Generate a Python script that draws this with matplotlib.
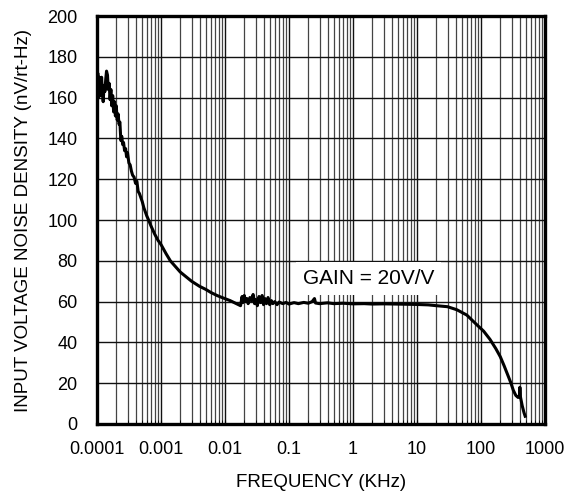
import matplotlib
matplotlib.use("Agg")
import matplotlib.pyplot as plt
from matplotlib.ticker import LogLocator, FixedLocator, NullFormatter

plt.rcParams['font.family'] = ['Liberation Sans', 'DejaVu Sans']

# frequency in kHz, noise density in nV/rt-Hz
freq = [
    1.00e-4, 1.03e-4, 1.06e-4, 1.09e-4, 1.12e-4, 1.15e-4, 1.18e-4, 1.21e-4,
    1.25e-4, 1.29e-4, 1.33e-4, 1.37e-4, 1.41e-4, 1.46e-4, 1.50e-4, 1.55e-4,
    1.60e-4, 1.65e-4, 1.70e-4, 1.76e-4, 1.82e-4, 1.88e-4, 1.94e-4, 2.00e-4,
    2.07e-4, 2.14e-4, 2.21e-4, 2.28e-4, 2.36e-4, 2.44e-4, 2.52e-4, 2.60e-4,
    2.70e-4, 2.80e-4, 2.90e-4, 3.00e-4, 3.15e-4, 3.30e-4, 3.45e-4, 3.60e-4,
    3.80e-4, 4.00e-4, 4.20e-4, 4.40e-4, 4.60e-4, 4.85e-4, 5.10e-4, 5.40e-4,
    5.70e-4, 6.00e-4, 6.40e-4,
    7.0e-4, 8.0e-4, 9.0e-4, 1.0e-3, 1.2e-3, 1.4e-3, 1.7e-3, 2.0e-3, 2.5e-3,
    3.0e-3, 4.0e-3, 5.0e-3, 6.0e-3, 7.5e-3, 9.0e-3, 1.2e-2, 1.5e-2,
    0.0175, 0.0185, 0.0190, 0.0200, 0.0210, 0.0220, 0.0230, 0.0245, 0.0260,
    0.0275, 0.0290, 0.0305, 0.0320, 0.0340, 0.0360, 0.0380, 0.0400, 0.0420,
    0.0445, 0.0470, 0.0500, 0.0530, 0.0560, 0.0600, 0.065, 0.070, 0.080,
    0.090, 0.10, 0.12, 0.14, 0.17, 0.20, 0.23, 0.25, 0.26, 0.30, 0.40, 0.5,
    0.7, 1.0, 1.5, 2.0, 3.0, 5.0, 7.0, 10, 15, 20, 30, 42, 60, 87, 110, 138,
    170, 200, 230, 262, 290, 320, 350, 380, 400, 405, 412, 440, 470, 490,
]
noise = [
    162, 172, 160, 170, 167, 161, 170, 164,
    158, 166, 163, 169, 173, 171, 164, 167,
    159, 164, 156, 161, 153, 158, 151, 156,
    149, 152, 147, 148, 139, 141, 137, 138,
    134, 135, 131, 133, 128, 127, 124, 122,
    121, 118, 119, 114, 113, 111, 109, 106,
    104, 102, 100,
    97, 93, 90, 88, 83.5, 80, 77, 74.5, 72,
    70, 67.5, 66, 64.5, 63, 62, 60.5, 59,
    58.0, 62.5, 59.5, 63.0, 60.0, 61.5, 59.0, 62.0, 60.5,
    63.5, 59.0, 61.0, 58.0, 62.5, 59.5, 63.0, 58.5, 61.5,
    59.0, 62.0, 58.5, 60.5, 59.0, 60.0, 58.5, 59.8, 59.0,
    59.6, 58.8, 59.5, 59.0, 59.6, 59.2, 60.0, 61.5, 59.3, 59.0, 59.4, 59.0,
    59.2, 58.9, 59.0, 58.8, 58.9, 58.8, 58.7, 58.6, 58.4, 58.0, 57.5, 56.0, 53.4, 48.5, 45.5, 41.5,
    37, 33, 28.5, 24, 20.5, 16.5, 14, 13, 13.5, 18, 13.5, 9, 5.5, 3.8,
]

xticks = [1e-4, 1e-3, 1e-2, 1e-1, 1, 10, 100, 1000]
xtick_labels = ["0.0001", "0.001", "0.01", "0.1", "1", "10", "100", "1000"]
yticks = [0, 20, 40, 60, 80, 100, 120, 140, 160, 180, 200]

fig = plt.figure(figsize=(5.79, 5.01), dpi=100)
ax = fig.add_axes([0.1675, 0.1537, 0.7738, 0.8143])

ax.plot(freq, noise, color='k', linewidth=2.2, zorder=3)

ax.set_xscale('log')
ax.set_xlim(1e-4, 1000)
ax.set_ylim(0, 200)

ax.xaxis.set_major_locator(FixedLocator(xticks))
ax.set_xticklabels(xtick_labels)
ax.xaxis.set_minor_locator(LogLocator(base=10, subs=range(2, 10), numticks=20))
ax.xaxis.set_minor_formatter(NullFormatter())
ax.set_yticks(yticks)

ax.grid(which='major', color='#111111', linewidth=1.0)
ax.grid(which='minor', axis='x', color='#444444', linewidth=0.9)

ax.tick_params(axis='x', which='both', direction='in', length=3, labelsize=13, pad=12)
ax.tick_params(axis='y', which='both', length=0, labelsize=13, pad=14)

for s in ax.spines.values():
    s.set_linewidth(2.4)

ax.set_xlabel("FREQUENCY (KHz)", fontsize=13.5, labelpad=12)
ax.set_ylabel("INPUT VOLTAGE NOISE DENSITY (nV/rt-Hz)", fontsize=13.5, labelpad=11)

ax.text(1.75, 71.5, "GAIN = 20V/V", fontsize=15, ha='center', va='center', zorder=4,
        bbox=dict(facecolor='white', edgecolor='none', pad=5))

fig.savefig("out.png", dpi=100)
